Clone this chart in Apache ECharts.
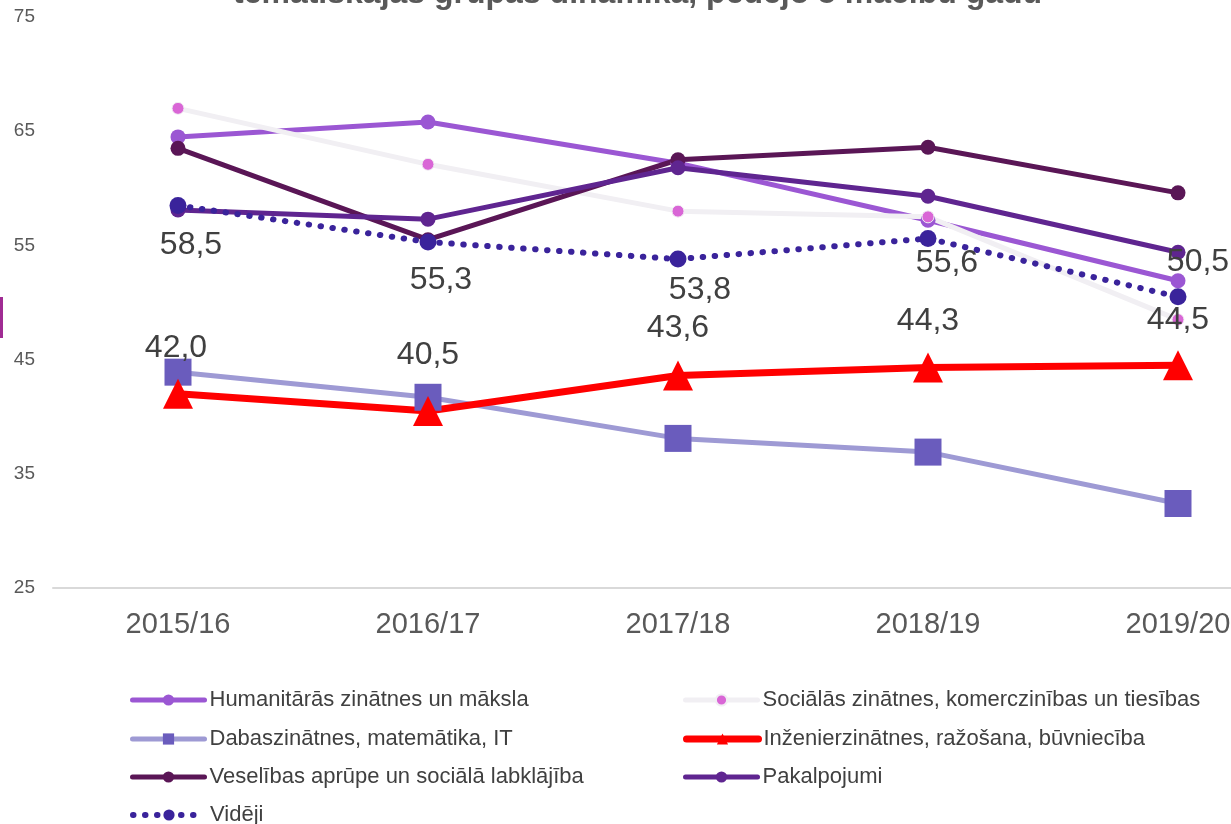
<!DOCTYPE html>
<html>
<head>
<meta charset="utf-8">
<script src="https://cdn.jsdelivr.net/npm/echarts@6/dist/echarts.min.js"></script>
<style>
  html, body { margin: 0; padding: 0; background: #fff; }
  #chart { width: 1231px; height: 824px; }
</style>
</head>
<body>
<div id="chart"></div>
<script>
const years = ['2015/16', '2016/17', '2017/18', '2018/19', '2019/20'];
const yTicks = [25, 35, 45, 55, 65, 75];

const humanitaras = [64.5, 65.8, 62.2, 57.2, 51.9];
const socialas = [67.0, 62.1, 58.0, 57.5, 48.5];
const dabas = [43.9, 41.7, 38.1, 36.9, 32.4];
const inzenier = [42.0, 40.5, 43.6, 44.3, 44.5];
const veselibas = [63.5, 55.5, 62.5, 63.6, 59.6];
const pakalpojumi = [58.1, 57.3, 61.8, 59.3, 54.4];
const videji = [58.5, 55.3, 53.8, 55.6, 50.5];

const names = [
  'Humanitārās zinātnes un māksla',
  'Sociālās zinātnes, komerczinības un tiesības',
  'Dabaszinātnes, matemātika, IT',
  'Inženierzinātnes, ražošana, būvniecība',
  'Veselības aprūpe un sociālā labklājība',
  'Pakalpojumi',
  'Vidēji'
];

// label placement (px, relative to the point)
const vidLabelOffsets = [[13, 40], [13, 38], [22, 31], [19, 25], [20, -35]];
const inzLabelOffsets = [[-2, -46], [0, -56], [0, -47], [0, -46], [0, -45]];

const fmt = v => v.toFixed(1).replace('.', ',');
const labelFont = { fontSize: 32, color: '#404040', fontFamily: 'Liberation Sans' };

const chart = echarts.init(document.getElementById('chart'));

function lineSeries(name, data, color, width, symbol, size, symbolColor, extra) {
  return Object.assign({
    name: name,
    type: 'line',
    data: data,
    symbol: symbol,
    symbolSize: size,
    lineStyle: { color: color, width: width, cap: 'round' },
    itemStyle: { color: symbolColor || color },
    emphasis: { disabled: true },
    animation: false
  }, extra || {});
}

// one legend per entry, two columns like the original
const legendCols = [130, 683];
const legendRowCenters = [700, 739, 777, 815];
const legends = names.map((n, i) => ({
  orient: 'horizontal',
  left: legendCols[i % 2],
  top: legendRowCenters[Math.floor(i / 2)] - 11,
  padding: 0,
  itemWidth: 72,
  itemHeight: 14,
  lineStyle: { width: 'inherit' },
  textStyle: { fontSize: 22, color: '#404040', lineHeight: 22 },
  data: [n]
}));

const option = {
  animation: false,
  textStyle: { fontFamily: 'Liberation Sans' },
  title: {
    text: 'tematiskajās grupās dinamikā, pēdējo 5 mācību gadu',
    left: 228,
    top: -27,
    textStyle: { fontSize: 32, fontWeight: 'bold', color: '#595959', fontFamily: 'Liberation Sans' }
  },
  graphic: [{
    type: 'rect',
    shape: { x: 0, y: 297, width: 3, height: 41 },
    style: { fill: '#A02B93' }
  }],
  grid: { left: 53, top: 17, width: 1250, height: 571, outerBoundsMode: 'none', containLabel: false },
  xAxis: {
    type: 'category',
    data: years,
    boundaryGap: true,
    axisTick: { show: false },
    axisLine: { lineStyle: { color: '#D9D9D9', width: 2 } },
    axisLabel: { fontSize: 29, color: '#595959', margin: 22 }
  },
  yAxis: {
    type: 'value',
    min: yTicks[0],
    max: yTicks[yTicks.length - 1],
    interval: 10,
    splitLine: { show: false },
    axisLine: { show: false },
    axisTick: { show: false },
    axisLabel: { fontSize: 19, color: '#595959', margin: 18 }
  },
  legend: legends,
  series: [
    lineSeries(names[0], humanitaras, '#9B57D3', 5, 'circle', 15),
    lineSeries(names[1], socialas, '#F1EFF3', 5, 'circle', 12, '#D966D6',
      { itemStyle: { color: '#D966D6', borderColor: '#F1EFF3', borderWidth: 1 } }),
    lineSeries(names[2], dabas, '#9E9AD4', 5, 'rect', 27, '#6A5CBD'),
    lineSeries(names[3], inzenier.map((v, i) => ({
      value: v,
      label: { offset: inzLabelOffsets[i] }
    })), '#FF0000', 7, 'triangle', 30, '#FF0000', {
      label: Object.assign({ show: true, position: 'inside', formatter: p => fmt(p.value) }, labelFont)
    }),
    lineSeries(names[4], veselibas, '#5A1656', 5, 'circle', 15),
    lineSeries(names[5], pakalpojumi, '#5F2590', 5, 'circle', 15),
    lineSeries(names[6], videji.map((v, i) => ({
      value: v,
      label: { offset: vidLabelOffsets[i] }
    })), '#3A239B', 5, 'circle', 17, '#3A239B', {
      lineStyle: { color: '#3A239B', width: 6, type: [0.5, 11.5], cap: 'round' },
      label: Object.assign({ show: true, position: 'inside', formatter: p => fmt(p.value) }, labelFont)
    })
  ]
};

chart.setOption(option);
</script>
</body>
</html>
